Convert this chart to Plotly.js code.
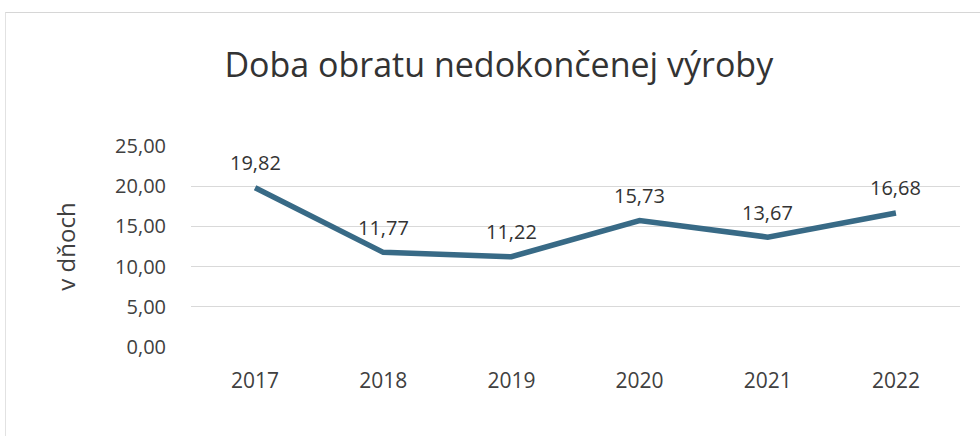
<!DOCTYPE html>
<html><head><meta charset="utf-8">
<script src="https://cdn.plot.ly/plotly-3.0.1.min.js"></script>
<style>html,body{margin:0;padding:0;background:#fff}
#frame{position:absolute;left:5px;top:12px;width:980px;height:430px;border-top:1px solid #d6d6d6;border-left:1px solid #e2e2e2}
#chart{position:absolute;left:0;top:0;width:980px;height:436px}</style>
</head><body><div id="frame"></div><div id="chart"></div>
<script>
const years = ['2017','2018','2019','2020','2021','2022'];
const values = [19.82, 11.77, 11.22, 15.73, 13.67, 16.68];
const yTicks = [0, 5, 10, 15, 20, 25];
const fmt = v => v.toFixed(2).replace('.', ',');

const trace = {
  x: years, y: values, type: 'scatter', mode: 'lines',
  line: {color: '#386a86', width: 5.5}, hoverinfo: 'skip'
};
const annotations = years.map((yr, i) => ({
  x: i, y: values[i], xref: 'x', yref: 'y', text: fmt(values[i]), showarrow: false,
  yshift: 25, font: {family: 'Open Sans, sans-serif', size: 20, color: '#333'}
}));
const layout = {
  width: 980, height: 436,
  paper_bgcolor: 'rgba(0,0,0,0)', plot_bgcolor: 'rgba(0,0,0,0)',
  margin: {l: 191, r: 20, t: 146, b: 89},
  title: {text: 'Doba obratu nedokončenej výroby', x: 0.509, xanchor: 'center', y: 0.85, yanchor: 'middle',
          font: {family: 'Open Sans, sans-serif', size: 34, color: '#333'}},
  showlegend: false,
  xaxis: {type: 'category', range: [-0.5, 5.5], showgrid: false, zeroline: false, showline: false,
          ticks: 'outside', ticklen: 15, tickcolor: 'rgba(0,0,0,0)',
          tickfont: {family: 'Open Sans, sans-serif', size: 21, color: '#404040'}},
  yaxis: {range: [-0.03, 25.03], tickvals: yTicks, ticktext: yTicks.map(fmt),
          showgrid: true, gridcolor: '#d9d9d9', gridwidth: 1, zeroline: false, showline: false,
          ticks: 'outside', ticklen: 20, tickcolor: 'rgba(0,0,0,0)',
          tickfont: {family: 'Open Sans, sans-serif', size: 20, color: '#404040'},
          title: {text: 'v dňoch', standoff: 32, font: {family: 'Open Sans, sans-serif', size: 24, color: '#404040'}}},
  annotations: annotations
};
Plotly.newPlot('chart', [trace], layout, {displayModeBar: false, staticPlot: true});
</script></body></html>
